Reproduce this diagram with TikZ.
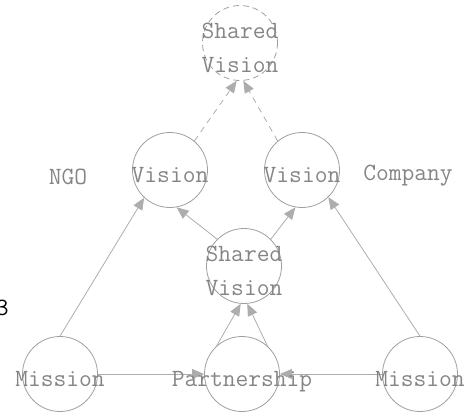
\documentclass[tikz,border=0pt]{standalone}
\usetikzlibrary{arrows.meta}
\begin{document}
\begin{tikzpicture}[x=0.5pt,y=-0.5pt,
    ring/.style={circle,draw=black!38,minimum size=37.5pt,inner sep=0pt},
    word/.style={text=black!48,font=\ttfamily\fontsize{12.4}{16.8}\selectfont,align=center},
    link/.style={draw=black!32,-{Triangle[length=6pt,width=5pt]}},
    hint/.style={link,dash pattern=on 3pt off 2.5pt}]
    \useasboundingbox (0,0) rectangle (465,412);
    \node[ring,dashed,dash pattern=on 3pt off 2pt] (tsv) at (240,43) {};
    \node[ring] (vl) at (170,170) {};
    \node[ring] (vr) at (302,170) {};
    \node[ring] (msv) at (244,266) {};
    \node[ring] (pt) at (242,374) {};
    \node[ring] (ml) at (60,374) {};
    \node[ring] (mr) at (420,374) {};
    \draw[link] (ml.north) -- (vl.-133);
    \draw[link] (mr.north) -- (vr.-46);
    \draw[link] (ml) -- (pt);
    \draw[link] (mr) -- (pt);
    \draw[link] (pt.132) -- (msv.-95);
    \draw[link] (pt.48) -- (msv.-85);
    \draw[link] (msv.135) -- (vl.-80);
    \draw[link] (msv.45) -- (vr.-100);
    \draw[hint] (vl.50) -- (tsv.-95);
    \draw[hint] (vr.130) -- (tsv.-85);
    \node[word] (tsvtext) at (240,48) {Shared\\Vision};
    \node[word] (msvtext) at (244,271) {Shared\\Vision};
    \node[word,anchor=base] (vltext) at (170,182) {Vision};
    \node[word,anchor=base] (vrtext) at (302,182) {Vision};
    \node[word,anchor=base] (pttext) at (242,386) {Partnership};
    \node[word,anchor=base] (mltext) at (60,386) {Mission};
    \node[word,anchor=base] (mrtext) at (420,386) {Mission};
    \node[word,anchor=base] (ngo) at (68,184) {NGO};
    \node[word,anchor=base] (company) at (408,180) {Company};
    \node[word,text=black,anchor=base east,inner xsep=0pt] (cut) at (9,315) {3};
\end{tikzpicture}
\end{document}
